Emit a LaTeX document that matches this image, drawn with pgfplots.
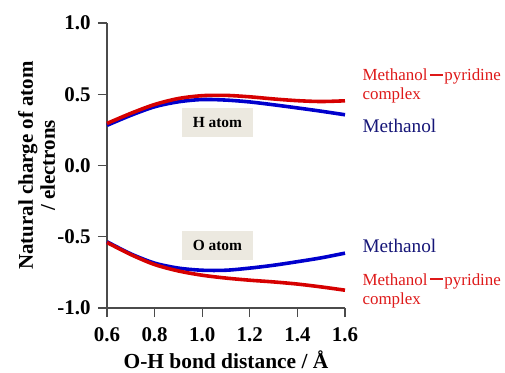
\documentclass[border=0pt]{standalone}
\usepackage{pgfplots}
\pgfplotsset{compat=1.18}
\usepackage{fontspec}
\setmainfont{Liberation Serif}
\definecolor{cred}{RGB}{214,0,0}
\definecolor{cblue}{RGB}{0,0,205}
\definecolor{tred}{RGB}{222,25,25}
\definecolor{tblue}{RGB}{22,22,120}
\definecolor{boxbg}{RGB}{236,233,224}
\definecolor{axgray}{RGB}{75,75,75}
\newcommand{\dashbar}{\kern2.5bp\rule[0.3em]{13bp}{1.7bp}\kern1.5bp}
\begin{document}
\begin{tikzpicture}
\begin{axis}[
  at={(0,0)}, anchor=south west,
  scale only axis,
  width=238bp, height=285bp,
  xmin=0.6, xmax=1.6, ymin=-1, ymax=1,
  axis x line*=bottom, axis y line*=left,
  axis line style={axgray, line width=1.3pt, -},
  xtick={0.6,0.8,1.0,1.2,1.4,1.6},
  xticklabels={0.6,0.8,1.0,1.2,1.4,1.6},
  ytick={-1,-0.5,0,0.5,1},
  yticklabels={-1.0,-0.5,0.0,0.5,1.0},
  tick align=outside,
  major tick length=9bp,
  tick style={axgray, line width=1.3pt},
  ticklabel style={font=\bfseries\fontsize{21}{21}\selectfont},
  yticklabel style={xshift=-4bp},
  xticklabel style={yshift=-7bp},
  xlabel={O-H bond distance / Å},
  xlabel style={font=\bfseries\fontsize{21.5}{21.5}\selectfont, at={(axis description cs:0.5,-0.214)}, anchor=base},
  ylabel={Natural charge of atom\\/ electrons},
  ylabel style={font=\bfseries\fontsize{21}{22}\selectfont, align=center, at={(axis description cs:-0.296,0.5)}, anchor=center},
  clip=false,
]
% H atom, methanol
\addplot[cblue, line width=3.6pt, smooth] coordinates {
(0.6,0.282) (0.7,0.352) (0.8,0.412) (0.9,0.447) (1.0,0.463) (1.1,0.459)
(1.2,0.446) (1.3,0.426) (1.4,0.404) (1.5,0.381) (1.6,0.356)};
% H atom, complex
\addplot[cred, line width=3.6pt, smooth] coordinates {
(0.6,0.295) (0.7,0.366) (0.8,0.428) (0.9,0.470) (1.0,0.490) (1.1,0.492)
(1.2,0.482) (1.3,0.467) (1.4,0.455) (1.5,0.449) (1.6,0.454)};
% O atom, methanol
\addplot[cblue, line width=3.6pt, smooth] coordinates {
(0.6,-0.535) (0.7,-0.620) (0.8,-0.685) (0.9,-0.720) (1.0,-0.735) (1.1,-0.735)
(1.2,-0.720) (1.3,-0.700) (1.4,-0.675) (1.5,-0.648) (1.6,-0.615)};
% O atom, complex
\addplot[cred, line width=3.6pt, smooth] coordinates {
(0.6,-0.540) (0.7,-0.625) (0.8,-0.695) (0.9,-0.740) (1.0,-0.770) (1.1,-0.790)
(1.2,-0.805) (1.3,-0.817) (1.4,-0.832) (1.5,-0.852) (1.6,-0.875)};

\node[fill=boxbg, font=\bfseries\fontsize{15.5}{15.5}\selectfont, minimum width=71bp, minimum height=29bp, inner sep=0pt]
  at (axis cs:1.064,0.305) {H atom};
\node[fill=boxbg, font=\bfseries\fontsize{15.5}{15.5}\selectfont, minimum width=71bp, minimum height=29bp, inner sep=0pt]
  at (axis cs:1.064,-0.561) {O atom};

\node[anchor=base west, text=tred, font=\fontsize{17}{17}\selectfont, inner sep=0pt]
  at (axis cs:1.673,0.593) {Methanol\dashbar pyridine};
\node[anchor=base west, text=tred, font=\fontsize{17}{17}\selectfont, inner sep=0pt]
  at (axis cs:1.673,0.460) {complex};
\node[anchor=base west, text=tblue, font=\fontsize{19.3}{19.3}\selectfont, inner sep=0pt]
  at (axis cs:1.673,0.230) {Methanol};
\node[anchor=base west, text=tblue, font=\fontsize{19.3}{19.3}\selectfont, inner sep=0pt]
  at (axis cs:1.673,-0.612) {Methanol};
\node[anchor=base west, text=tred, font=\fontsize{17}{17}\selectfont, inner sep=0pt]
  at (axis cs:1.673,-0.839) {Methanol\dashbar pyridine};
\node[anchor=base west, text=tred, font=\fontsize{17}{17}\selectfont, inner sep=0pt]
  at (axis cs:1.673,-0.977) {complex};
\end{axis}
\pgfresetboundingbox
\useasboundingbox (-107bp,-65bp) rectangle (398bp,308bp);
\end{tikzpicture}
\end{document}
